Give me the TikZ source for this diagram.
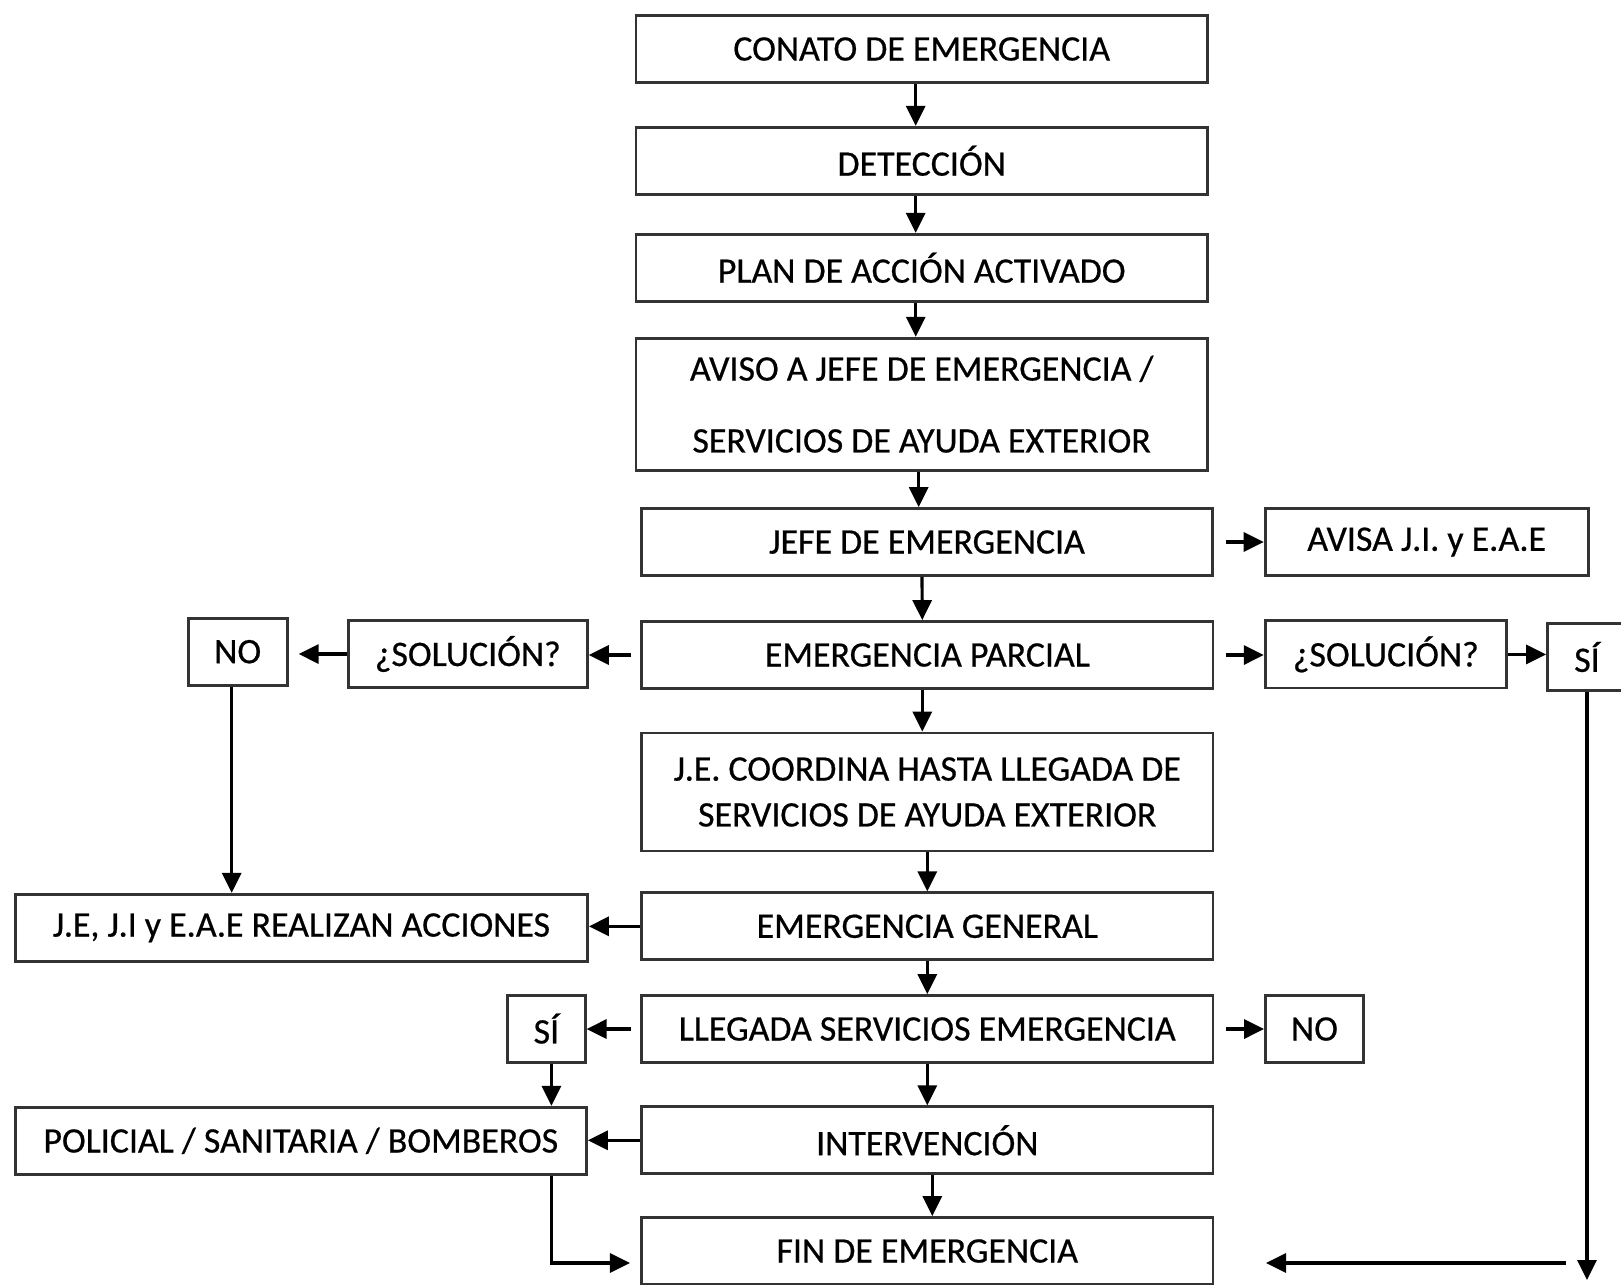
\documentclass[tikz,border=0pt]{standalone}
\usepackage{fontspec}
\setmainfont{Carlito}[FakeBold=0.6]
\usetikzlibrary{arrows.meta}

\begin{document}
\begin{tikzpicture}[x=0.01cm,y=-0.01cm]
\tikzstyle{block} = [rectangle, draw=black!80, line width=0.8pt, minimum width=5.71cm,
minimum height=0.67cm, inner sep=0pt, align=center, font=\fontsize{10.2}{12.2}\selectfont]
\tikzstyle{line} = [draw, line width=0.9pt, -{Triangle[length=2mm,width=1.9mm]}];

\useasboundingbox (0,0) rectangle (1621,1284);

% main column
\node [block] (conato) at (921.7,49) {CONATO DE EMERGENCIA};
\node [block] (deteccion) at (921.7,160.8) {DETECCIÓN};
\node [block] (plan) at (921.7,267.8) {PLAN DE ACCIÓN ACTIVADO};
\node [block, minimum height=1.32cm] (aviso) at (921.7,404.2)
  {AVISO A JEFE DE EMERGENCIA /\\[0.29cm] SERVICIOS DE AYUDA EXTERIOR};
\node [block] (jefe) at (927,542) {JEFE DE EMERGENCIA};
\node [block] (parcial) at (927.3,655) {EMERGENCIA PARCIAL};
\node [block, minimum height=1.18cm] (coordina) at (927.3,792)
  {J.E. COORDINA HASTA LLEGADA DE\\[0.03cm] SERVICIOS DE AYUDA EXTERIOR};
\node [block] (general) at (927.3,926.3) {EMERGENCIA GENERAL};
\node [block] (llegada) at (927.3,1029) {LLEGADA SERVICIOS EMERGENCIA};
\node [block] (intervencion) at (927.3,1140.3) {INTERVENCIÓN};
\node [block] (fin) at (927.3,1251) {FIN DE EMERGENCIA};

% right side
\node [block, minimum width=3.23cm] (avisa) at (1426.7,542) {AVISA J.I. y E.A.E};
\node [block, minimum width=2.41cm] (solder) at (1385.8,654.4) {¿SOLUCIÓN?};
\node [block, minimum width=0.79cm] (sider) at (1587,657) {SÍ};
\node [block, minimum width=0.98cm] (noder) at (1314.5,1029) {NO};

% left side
\node [block, minimum width=2.39cm] (solizq) at (467.8,654) {¿SOLUCIÓN?};
\node [block, minimum width=0.99cm] (noizq) at (237.7,651.7) {NO};
\node [block, minimum width=5.72cm] (jeji) at (301.4,927.8) {J.E, J.I y E.A.E REALIZAN ACCIONES};
\node [block, minimum width=0.775cm] (siizq) at (546.4,1028.6) {SÍ};
\node [block] (policial) at (300.8,1140.8) {POLICIAL / SANITARIA / BOMBEROS};

\coordinate (bajo) at (1589,1280);
\coordinate (vuelta) at (1566,1263);
\coordinate (llega) at (1266,1263);
\coordinate (entra) at (630,1263);

% down the column
\path [line] ([xshift=-0.06cm]conato.south) -- ([xshift=-0.06cm]deteccion.north);
\path [line] ([xshift=-0.06cm]deteccion.south) -- ([xshift=-0.06cm]plan.north);
\path [line] ([xshift=-0.06cm]plan.south) -- ([xshift=-0.06cm]aviso.north);
\path [line] ([xshift=-0.03cm]aviso.south) -- ([xshift=-0.03cm]aviso.south |- jefe.north);
\path [line] ([xshift=-0.05cm]jefe.south) -- ([xshift=-0.05cm]parcial.north);
\path [line] ([xshift=-0.05cm]parcial.south) -- ([xshift=-0.05cm]coordina.north);
\path [line] (coordina) -- (general);
\path [line] (general) -- (llegada);
\path [line] (llegada) -- (intervencion);
\path [line] ([xshift=0.05cm]intervencion.south) -- ([xshift=0.05cm]fin.north);

% branches
\path [line, shorten <=0.12cm] (jefe.east) -- (jefe.east -| avisa.west);
\path [line, shorten <=0.09cm] (parcial.west) -- (parcial.west -| solizq.east);
\path [line, shorten >=0.1cm] (solizq.west) -- (solizq.west -| noizq.east);
\path [line, shorten <=0.12cm] (parcial.east) -- (parcial.east -| solder.west);
\path [line] (solder.east) -- (solder.east -| sider.west);
\path [line] ([xshift=-0.06cm]noizq.south) -- ([xshift=-0.06cm]noizq.south |- jeji.north);
\path [line] (general.west) -- (general.west -| jeji.east);
\path [line, shorten <=0.09cm] (llegada.west) -- (llegada.west -| siizq.east);
\path [line, shorten <=0.12cm] (llegada.east) -- (llegada.east -| noder.west);
\path [line] ([xshift=0.05cm]siizq.south) -- ([xshift=0.05cm]siizq.south |- policial.north);
\path [line] (intervencion.west) -- (intervencion.west -| policial.east);

% back to the end
\path [line] (sider.south) -- (sider.south |- bajo);
\path [line] (vuelta) -- (llega);
\path [line] ([xshift=0.05cm]siizq.south |- policial.south) |- (entra);

\end{tikzpicture}
\end{document}
